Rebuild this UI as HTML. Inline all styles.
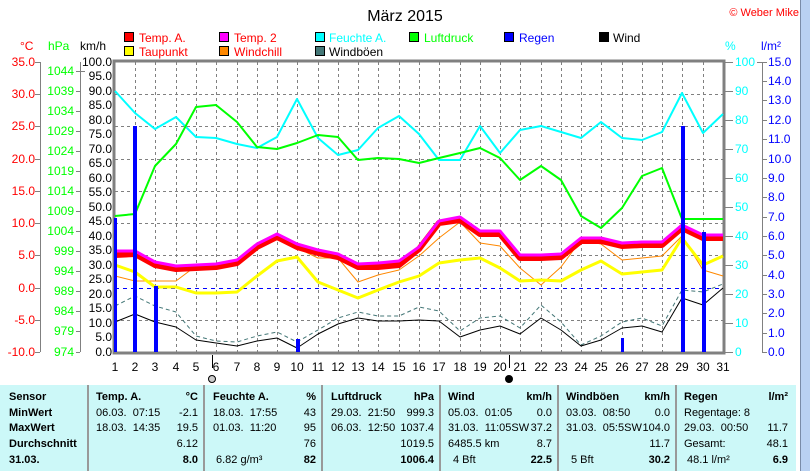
<!DOCTYPE html>
<html><head><meta charset="utf-8"><style>
body{margin:0;width:810px;height:471px;overflow:hidden;background:#fff;font-family:"Liberation Sans",sans-serif;}
svg{position:absolute;left:0;top:0}
text{font-family:"Liberation Sans",sans-serif;font-size:12px}
#tbl{position:absolute;left:0;top:385px;width:796px;height:86px;background:#ccf8f8;}
.c{position:absolute;top:0;height:86px;border-right:2px solid #999;}
.r{position:absolute;font-size:11px;white-space:nowrap;}
.b{font-weight:bold}
</style></head><body>
<svg width="810" height="471" viewBox="0 0 810 471">
<text x="405" y="21" text-anchor="middle" style="font-size:16px">März 2015</text>
<text x="799" y="16" fill="#f00" text-anchor="end" style="font-size:11px">© Weber Mike</text>
<g stroke="#000" stroke-width="1">
<rect x="124.5" y="32.5" width="9" height="9" fill="#f00"/>
<rect x="219.5" y="32.5" width="9" height="9" fill="#f0f"/>
<rect x="315.5" y="32.5" width="9" height="9" fill="#0ff"/>
<rect x="409.5" y="32.5" width="9" height="9" fill="#0f0"/>
<rect x="504.5" y="32.5" width="9" height="9" fill="#00f"/>
<rect x="599.5" y="32.5" width="9" height="9" fill="#000"/>
<rect x="124.5" y="46.5" width="9" height="9" fill="#ff0"/>
<rect x="219.5" y="46.5" width="9" height="9" fill="#f80"/>
<rect x="315.5" y="46.5" width="9" height="9" fill="#477"/>
</g>
<text x="139" y="42" fill="#f00">Temp. A.</text>
<text x="234" y="42" fill="#f00">Temp. 2</text>
<text x="329" y="42" fill="#0ff">Feuchte A.</text>
<text x="424" y="42" fill="#0f0">Luftdruck</text>
<text x="519" y="42" fill="#00f">Regen</text>
<text x="613" y="42" fill="#000">Wind</text>
<text x="139" y="56" fill="#f00">Taupunkt</text>
<text x="234" y="56" fill="#f00">Windchill</text>
<text x="329" y="56" fill="#000">Windböen</text>
<text x="20" y="50" fill="#f00">°C</text>
<text x="48" y="50" fill="#0f0">hPa</text>
<text x="80" y="50">km/h</text>
<text x="725" y="50" fill="#0ff">%</text>
<text x="761" y="50" fill="#00f">l/m²</text>
<g stroke="#808080" stroke-dasharray="3,3" stroke-width="1">
<path d="M135.5 62V352M155.5 62V352M176.5 62V352M196.5 62V352M216.5 62V352M237.5 62V352M257.5 62V352M277.5 62V352M297.5 62V352M318.5 62V352M338.5 62V352M358.5 62V352M378.5 62V352M399.5 62V352M419.5 62V352M439.5 62V352M460.5 62V352M480.5 62V352M500.5 62V352M520.5 62V352M541.5 62V352M561.5 62V352M581.5 62V352M601.5 62V352M622.5 62V352M642.5 62V352M662.5 62V352M682.5 62V352M703.5 62V352"/>
<path d="M115 94.5H723M115 126.5H723M115 159.5H723M115 191.5H723M115 223.5H723M115 255.5H723M115 320.5H723"/>
</g>
<path d="M115 288.5H723" stroke="#00f" stroke-dasharray="4,4"/>
<g stroke="#808080" fill="none">
<path d="M40.5 62V352M35 62.5H40M35 94.5H40M35 126.5H40M35 159.5H40M35 191.5H40M35 223.5H40M35 255.5H40M35 288.5H40M35 320.5H40M35 352.5H40"/>
<path d="M80.5 62V352M76 71.5H85M76 91.5H80M76 111.5H80M76 131.5H80M76 151.5H80M76 171.5H80M76 191.5H80M76 211.5H80M76 231.5H80M76 251.5H80M76 271.5H80M76 291.5H80M76 311.5H80M76 331.5H80M76 352.5H80"/>
<path d="M762.5 62V352M757 62.5H767"/>
<path d="M723 62.5H733M723 91.5H733M723 120.5H733M723 149.5H733M723 178.5H733M723 207.5H733M723 236.5H733M723 265.5H733M723 294.5H733M723 323.5H733M723 352.5H733"/>
<path d="M762 81.5H767M762 100.5H767M762 120.5H767M762 139.5H767M762 159.5H767M762 178.5H767M762 197.5H767M762 217.5H767M762 236.5H767M762 255.5H767M762 275.5H767M762 294.5H767M762 313.5H767M762 333.5H767M762 352.5H767"/>
<rect x="114" y="61" width="610" height="292" stroke-width="3"/>
</g>
<path d="M212.5 355V368M509.5 355V368" stroke="#000"/>
<g fill="#f00" text-anchor="end">
<text x="35" y="66">35.0</text><text x="35" y="98">30.0</text><text x="35" y="130">25.0</text><text x="35" y="163">20.0</text><text x="35" y="195">15.0</text><text x="35" y="227">10.0</text><text x="35" y="259">5.0</text><text x="35" y="292">0.0</text><text x="35" y="324">-5.0</text><text x="35" y="356">-10.0</text>
</g>
<g fill="#0f0" text-anchor="end">
<text x="74" y="75">1044</text><text x="74" y="95">1039</text><text x="74" y="115">1034</text><text x="74" y="135">1029</text><text x="74" y="155">1024</text><text x="74" y="175">1019</text><text x="74" y="195">1014</text><text x="74" y="215">1009</text><text x="74" y="235">1004</text><text x="74" y="255">999</text><text x="74" y="275">994</text><text x="74" y="295">989</text><text x="74" y="315">984</text><text x="74" y="335">979</text><text x="74" y="356">974</text>
</g>
<g fill="#000" text-anchor="end">
<text x="112" y="66">100.0</text><text x="112" y="80">95.0</text><text x="112" y="95">90.0</text><text x="112" y="109">85.0</text><text x="112" y="124">80.0</text><text x="112" y="138">75.0</text><text x="112" y="153">70.0</text><text x="112" y="167">65.0</text><text x="112" y="182">60.0</text><text x="112" y="196">55.0</text><text x="112" y="211">50.0</text><text x="112" y="225">45.0</text><text x="112" y="240">40.0</text><text x="112" y="254">35.0</text><text x="112" y="269">30.0</text><text x="112" y="283">25.0</text><text x="112" y="298">20.0</text><text x="112" y="312">15.0</text><text x="112" y="327">10.0</text><text x="112" y="341">5.0</text><text x="112" y="356">0.0</text>
</g>
<g fill="#0ff">
<text x="735" y="66">100</text><text x="735" y="95">90</text><text x="735" y="124">80</text><text x="735" y="153">70</text><text x="735" y="182">60</text><text x="735" y="211">50</text><text x="735" y="240">40</text><text x="735" y="269">30</text><text x="735" y="298">20</text><text x="735" y="327">10</text><text x="735" y="356">0</text>
</g>
<g fill="#00f">
<text x="768" y="66">15.0</text><text x="768" y="85">14.0</text><text x="768" y="104">13.0</text><text x="768" y="124">12.0</text><text x="768" y="143">11.0</text><text x="768" y="163">10.0</text><text x="768" y="182">9.0</text><text x="768" y="201">8.0</text><text x="768" y="221">7.0</text><text x="768" y="240">6.0</text><text x="768" y="259">5.0</text><text x="768" y="279">4.0</text><text x="768" y="298">3.0</text><text x="768" y="317">2.0</text><text x="768" y="337">1.0</text><text x="768" y="356">0.0</text>
</g>
<g text-anchor="middle">
<text x="115" y="371">1</text><text x="135" y="371">2</text><text x="155" y="371">3</text><text x="176" y="371">4</text><text x="196" y="371">5</text><text x="216" y="371">6</text><text x="237" y="371">7</text><text x="257" y="371">8</text><text x="277" y="371">9</text><text x="297" y="371">10</text><text x="318" y="371">11</text><text x="338" y="371">12</text><text x="358" y="371">13</text><text x="378" y="371">14</text><text x="399" y="371">15</text><text x="419" y="371">16</text><text x="439" y="371">17</text><text x="460" y="371">18</text><text x="480" y="371">19</text><text x="500" y="371">20</text><text x="520" y="371">21</text><text x="541" y="371">22</text><text x="561" y="371">23</text><text x="581" y="371">24</text><text x="601" y="371">25</text><text x="622" y="371">26</text><text x="642" y="371">27</text><text x="662" y="371">28</text><text x="682" y="371">29</text><text x="703" y="371">30</text><text x="723" y="371">31</text>
</g>
<circle cx="212" cy="379" r="3.5" fill="#ccc" stroke="#000"/>
<circle cx="509" cy="379" r="3.5" fill="#000" stroke="#000"/>
<g fill="none" stroke-linejoin="round">
<polyline stroke="#0ff" stroke-width="2" points="115,91 135,113 155,129 176,117 196,137 216,138 237,144 257,148 277,137 297,99 318,138 338,155 358,150 378,128 399,116 419,134 439,160 460,160 480,126 500,153 520,130 541,126 561,132 581,138 601,122 622,138 642,140 662,132 682,93 703,133 723,114"/>
<polyline stroke="#0f0" stroke-width="2" points="115,216 135,214 155,166 176,144 196,107 216,105 237,122 257,147 277,149 297,143 318,135 338,137 358,160 378,158 399,159 419,163 439,158 460,153 480,148 500,158 520,180 541,166 561,180 581,216 601,228 622,208 642,176 662,168 682,219 703,219 723,219"/>
<polyline stroke="#477" stroke-width="1" stroke-dasharray="4,3" points="115,306 135,296 155,306 176,312 196,336 216,341 237,342 257,336 277,332 297,342 318,330 338,318 358,312 378,316 399,316 419,307 439,311 460,331 480,318 500,316 520,328 541,305 561,322 581,345 601,336 622,322 642,318 662,326 682,290 703,292 723,284"/>
<polyline stroke="#000" stroke-width="1" points="115,322 135,314 155,322 176,327 196,340 216,343 237,346 257,341 277,338 297,348 318,334 338,324 358,318 378,321 399,321 419,320 439,321 460,337 480,330 500,326 520,334 541,318 561,330 581,346 601,340 622,328 642,326 662,332 682,298 703,305 723,288"/>
<polyline stroke="#f80" stroke-width="1" points="115,276 135,281 155,281 176,281 196,266 216,266 237,262 257,248 277,238 297,248 318,258 338,258 358,282 378,275 399,270 419,256 439,238 460,222 480,243 500,246 520,268 541,285 561,267 581,240 601,244 622,260 642,258 662,256 682,236 703,270 723,276"/>
<polyline stroke="#ff0" stroke-width="3" points="115,265 135,272 155,287 176,287 196,293 216,293 237,292 257,276 277,261 297,257 318,282 338,290 358,298 378,290 399,282 419,276 439,263 460,260 480,258 500,268 520,281 541,280 561,281 581,270 601,261 622,274 642,272 662,270 682,238 703,265 723,256"/>
<polyline stroke="#f00" stroke-width="6" points="115,255 135,254 155,265 176,269 196,268 216,267 237,263 257,247 277,237 297,247 318,253 338,257 358,267 378,267 399,265 419,249 439,223 460,220 480,234 500,234 520,258 541,258 561,257 581,241 601,241 622,246 642,245 662,245 682,228 703,238 723,238"/>
<polyline stroke="#f0f" stroke-width="3" points="115,251 135,251 155,262 176,266 196,265 216,264 237,260 257,244 277,234 297,244 318,250 338,254 358,264 378,263 399,261 419,247 439,221 460,217 480,231 500,231 520,255 541,255 561,254 581,238 601,238 622,243 642,242 662,242 682,225 703,235 723,235"/>
</g>
<g fill="#00f">
<rect x="114" y="218" width="3" height="134"/>
<rect x="133" y="126" width="4" height="226"/>
<rect x="154" y="286" width="4" height="66"/>
<rect x="296" y="339" width="4" height="13"/>
<rect x="621" y="338" width="3" height="14"/>
<rect x="681" y="126" width="4" height="226"/>
<rect x="702" y="232" width="4" height="120"/>
</g>
<rect x="801" y="0" width="9" height="471" fill="#b9d1f2"/>
<rect x="800" y="0" width="1" height="471" fill="#7a8ca8"/>
</svg>
<div id="tbl">
<div class="c" style="left:0;width:87px"></div>
<div class="c" style="left:89px;width:114px"></div>
<div class="c" style="left:205px;width:116px"></div>
<div class="c" style="left:323px;width:116px"></div>
<div class="c" style="left:441px;width:116px"></div>
<div class="c" style="left:559px;width:116px"></div>
<div class="r b" style="left:9px;top:6px">Sensor</div>
<div class="r b" style="left:9px;top:22px">MinWert</div>
<div class="r b" style="left:9px;top:37px">MaxWert</div>
<div class="r b" style="left:9px;top:53px">Durchschnitt</div>
<div class="r b" style="left:9px;top:69px">31.03.</div>

<div class="r b" style="left:96px;top:6px">Temp. A.</div><div class="r b" style="right:598px;top:6px">°C</div>
<div class="r" style="left:96px;top:22px">06.03.&nbsp; 07:15</div><div class="r" style="right:598px;top:22px">-2.1</div>
<div class="r" style="left:96px;top:37px">18.03.&nbsp; 14:35</div><div class="r" style="right:598px;top:37px">19.5</div>
<div class="r" style="right:598px;top:53px">6.12</div>
<div class="r b" style="right:598px;top:69px">8.0</div>

<div class="r b" style="left:213px;top:6px">Feuchte A.</div><div class="r b" style="right:480px;top:6px">%</div>
<div class="r" style="left:213px;top:22px">18.03.&nbsp; 17:55</div><div class="r" style="right:480px;top:22px">43</div>
<div class="r" style="left:213px;top:37px">01.03.&nbsp; 11:20</div><div class="r" style="right:480px;top:37px">95</div>
<div class="r" style="right:480px;top:53px">76</div>
<div class="r" style="left:216px;top:69px">6.82 g/m³</div><div class="r b" style="right:480px;top:69px">82</div>

<div class="r b" style="left:331px;top:6px">Luftdruck</div><div class="r b" style="right:362px;top:6px">hPa</div>
<div class="r" style="left:331px;top:22px">29.03.&nbsp; 21:50</div><div class="r" style="right:362px;top:22px">999.3</div>
<div class="r" style="left:331px;top:37px">06.03.&nbsp; 12:50</div><div class="r" style="right:362px;top:37px">1037.4</div>
<div class="r" style="right:362px;top:53px">1019.5</div>
<div class="r b" style="right:362px;top:69px">1006.4</div>

<div class="r b" style="left:448px;top:6px">Wind</div><div class="r b" style="right:244px;top:6px">km/h</div>
<div class="r" style="left:448px;top:22px">05.03.&nbsp; 01:05</div><div class="r" style="right:244px;top:22px">0.0</div>
<div class="r" style="left:448px;top:37px">31.03.&nbsp; 11:05SW</div><div class="r" style="right:244px;top:37px">37.2</div>
<div class="r" style="left:448px;top:53px">6485.5 km</div><div class="r" style="right:244px;top:53px">8.7</div>
<div class="r" style="left:453px;top:69px">4 Bft</div><div class="r b" style="right:244px;top:69px">22.5</div>

<div class="r b" style="left:566px;top:6px">Windböen</div><div class="r b" style="right:126px;top:6px">km/h</div>
<div class="r" style="left:566px;top:22px">03.03.&nbsp; 08:50</div><div class="r" style="right:126px;top:22px">0.0</div>
<div class="r" style="left:566px;top:37px">31.03.&nbsp; 05:5SW</div><div class="r" style="right:126px;top:37px">104.0</div>
<div class="r" style="right:126px;top:53px">11.7</div>
<div class="r" style="left:571px;top:69px">5 Bft</div><div class="r b" style="right:126px;top:69px">30.2</div>

<div class="r b" style="left:684px;top:6px">Regen</div><div class="r b" style="right:8px;top:6px">l/m²</div>
<div class="r" style="left:684px;top:22px">Regentage: 8</div>
<div class="r" style="left:684px;top:37px">29.03.&nbsp; 00:50</div><div class="r" style="right:8px;top:37px">11.7</div>
<div class="r" style="left:684px;top:53px">Gesamt:</div><div class="r" style="right:8px;top:53px">48.1</div>
<div class="r" style="left:687px;top:69px">48.1 l/m²</div><div class="r b" style="right:8px;top:69px">6.9</div>
</div>
</body></html>
